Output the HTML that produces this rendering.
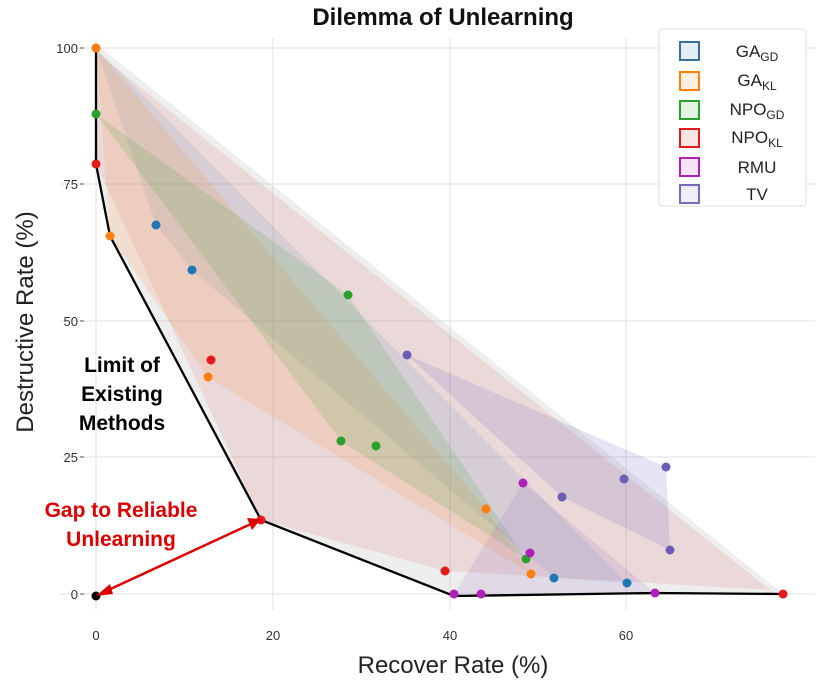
<!DOCTYPE html><html><head><style>body{margin:0;background:#fff}svg text{font-family:"Liberation Sans",sans-serif}</style></head><body>
<svg width="823" height="683" viewBox="0 0 823 683" xmlns="http://www.w3.org/2000/svg">
<g stroke="#e0e0e0" stroke-width="1">
<line x1="96" y1="38" x2="96" y2="610"/><line x1="273" y1="38" x2="273" y2="610"/><line x1="450" y1="38" x2="450" y2="610"/><line x1="626" y1="38" x2="626" y2="610"/>
<line x1="60" y1="48" x2="815" y2="48"/><line x1="60" y1="184" x2="815" y2="184"/><line x1="60" y1="321" x2="815" y2="321"/><line x1="60" y1="457" x2="815" y2="457"/><line x1="60" y1="594" x2="815" y2="594"/>
</g>
<g font-size="13" fill="#333" text-anchor="end">
<text x="78" y="53">100</text><text x="78" y="189">75</text><text x="78" y="326">50</text><text x="78" y="462">25</text><text x="78" y="599">0</text></g>
<g stroke="#555"><line x1="80" y1="48" x2="84" y2="48"/><line x1="80" y1="184" x2="84" y2="184"/><line x1="80" y1="321" x2="84" y2="321"/><line x1="80" y1="457" x2="84" y2="457"/><line x1="80" y1="594" x2="84" y2="594"/></g>
<g font-size="13" fill="#333" text-anchor="middle"><text x="96" y="640">0</text><text x="273" y="640">20</text><text x="450" y="640">40</text><text x="626" y="640">60</text></g>
<text x="453" y="673" font-size="24" text-anchor="middle" fill="#222">Recover Rate (%)</text>
<text transform="translate(33,322) rotate(-90)" font-size="24" text-anchor="middle" fill="#222">Destructive Rate (%)</text>
<text x="443" y="25" font-size="24" font-weight="bold" text-anchor="middle" fill="#111">Dilemma of Unlearning</text>
<polygon points="96,44 783,594 454,596 261,520 110,236 96,164" fill="#bbb" fill-opacity="0.25"/>
<polygon points="96,52 770,590 445,571 261,520 96,164" fill="#d62728" fill-opacity="0.1"/>
<polygon points="96,48 627,583 554,578 192,270 156,225" fill="#1f77b4" fill-opacity="0.1"/>
<polygon points="96,48 486,509 531,574 208,377 110,236" fill="#ff7f0e" fill-opacity="0.13"/>
<polygon points="96,114 348,295 526,559 341,441" fill="#2ca02c" fill-opacity="0.15"/>
<polygon points="454,594 523,483 655,593 481,594" fill="#9467bd" fill-opacity="0.15"/>
<polygon points="407,355 666,467 670,550 562,497" fill="#7b68bd" fill-opacity="0.18"/>
<polyline points="96,48 96,164 110,236 261,520 454,596 655,593 783,594" fill="none" stroke="#000" stroke-width="2.3"/>
<g fill="#1f77b4"><circle cx="96" cy="48" r="4.5"/><circle cx="156" cy="225" r="4.5"/><circle cx="192" cy="270" r="4.5"/><circle cx="554" cy="578" r="4.5"/><circle cx="627" cy="583" r="4.5"/></g>
<g fill="#ff7f0e"><circle cx="96" cy="48" r="4.5"/><circle cx="110" cy="236" r="4.5"/><circle cx="208" cy="377" r="4.5"/><circle cx="486" cy="509" r="4.5"/><circle cx="531" cy="574" r="4.5"/></g>
<g fill="#2ca02c"><circle cx="96" cy="114" r="4.5"/><circle cx="348" cy="295" r="4.5"/><circle cx="341" cy="441" r="4.5"/><circle cx="376" cy="446" r="4.5"/><circle cx="526" cy="559" r="4.5"/></g>
<g fill="#e31a1c"><circle cx="96" cy="164" r="4.5"/><circle cx="211" cy="360" r="4.5"/><circle cx="261" cy="520" r="4.5"/><circle cx="445" cy="571" r="4.5"/><circle cx="783" cy="594" r="4.5"/></g>
<g fill="#b01fb8"><circle cx="454" cy="594" r="4.5"/><circle cx="481" cy="594" r="4.5"/><circle cx="523" cy="483" r="4.5"/><circle cx="530" cy="553" r="4.5"/><circle cx="655" cy="593" r="4.5"/></g>
<g fill="#6a5fb5"><circle cx="407" cy="355" r="4.5"/><circle cx="562" cy="497" r="4.5"/><circle cx="624" cy="479" r="4.5"/><circle cx="666" cy="467" r="4.5"/><circle cx="670" cy="550" r="4.5"/></g>
<circle cx="96" cy="596" r="4.5" fill="#000"/>
<g stroke="#d00" stroke-width="2.5" fill="#d00"><line x1="104" y1="592" x2="253" y2="523"/>
<polygon points="96,596 110,584 113,594" stroke="none"/><polygon points="261,519 247,518 252,530" stroke="none"/></g>
<g font-size="21" font-weight="bold" text-anchor="middle" fill="#000"><text x="122" y="372">Limit of</text><text x="122" y="401">Existing</text><text x="122" y="430">Methods</text></g>
<g font-size="21" font-weight="bold" text-anchor="middle" fill="#d00"><text x="121" y="517">Gap to Reliable</text><text x="121" y="546">Unlearning</text></g>
<rect x="659" y="29" width="147" height="177" rx="3" fill="#fff" fill-opacity="0.9" stroke="#ddd"/>
<g stroke-width="2"><rect x="680" y="42" width="19" height="18" fill="#1f77b4" fill-opacity="0.12" stroke="#3a6f9a"/>
<rect x="680" y="72" width="19" height="18" fill="#ff7f0e" fill-opacity="0.12" stroke="#ff7f0e"/>
<rect x="680" y="101" width="19" height="18" fill="#2ca02c" fill-opacity="0.12" stroke="#2ca02c"/>
<rect x="680" y="129" width="19" height="18" fill="#d62728" fill-opacity="0.12" stroke="#e31a1c"/>
<rect x="680" y="158" width="19" height="18" fill="#b01fb8" fill-opacity="0.12" stroke="#b01fb8"/>
<rect x="680" y="185" width="19" height="18" fill="#7b68bd" fill-opacity="0.12" stroke="#7b68bd"/></g>
<g font-size="17" fill="#222" text-anchor="middle">
<text x="757" y="57">GA<tspan font-size="12" dy="4">GD</tspan></text>
<text x="757" y="86">GA<tspan font-size="12" dy="4">KL</tspan></text>
<text x="757" y="115">NPO<tspan font-size="12" dy="4">GD</tspan></text>
<text x="757" y="143">NPO<tspan font-size="12" dy="4">KL</tspan></text>
<text x="757" y="173">RMU</text>
<text x="757" y="200">TV</text></g>
</svg></body></html>
